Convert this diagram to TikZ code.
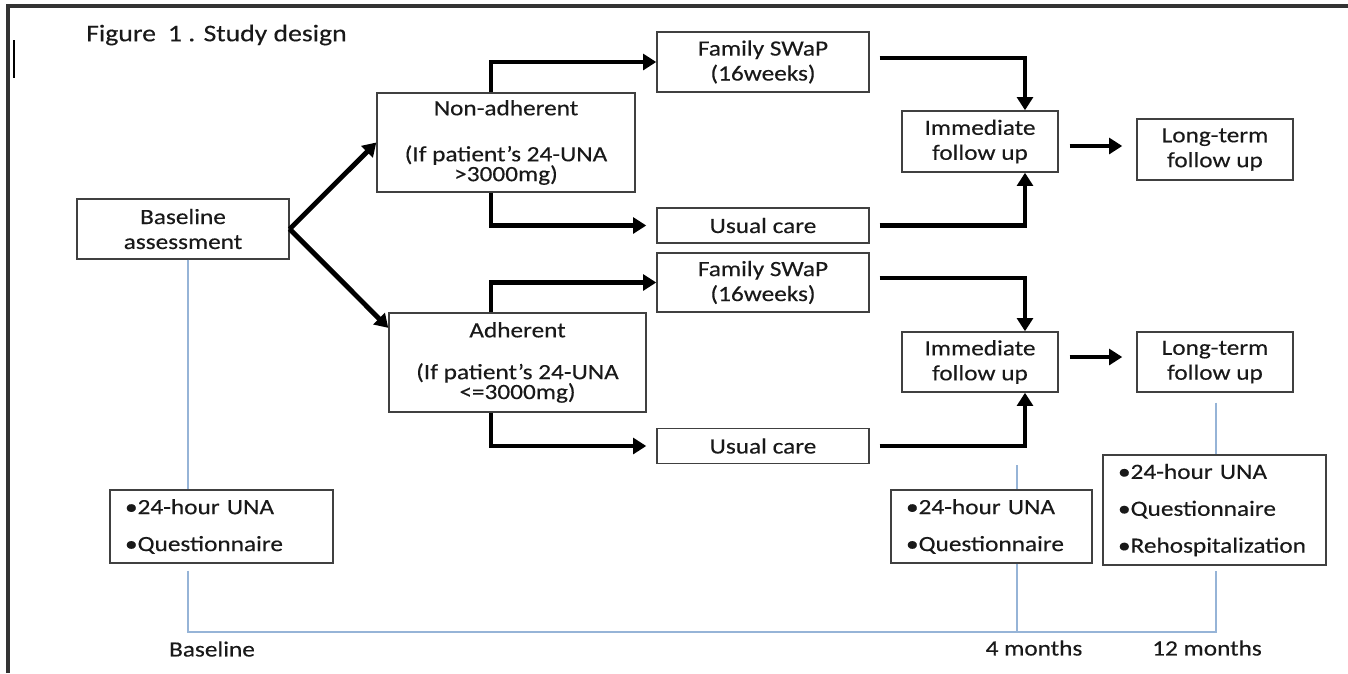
\documentclass[tikz,border=0pt]{standalone}
\usepackage{fontspec}
\setmainfont{Carlito}[FakeStretch=1.16,FakeBold=0.3]
\usetikzlibrary{arrows.meta}
\definecolor{tblue}{RGB}{150,180,215}

\begin{document}
\begin{tikzpicture}[x=0.02cm,y=-0.02cm,
    every node/.style={font=\fontsize{12.4}{14.2}\selectfont,text=black!90},
    box/.style={draw=black!75,line width=0.85pt,inner sep=0pt,align=center},
    listbox/.style={draw=black!75,line width=0.85pt,inner xsep=0.3cm,inner ysep=0pt,
      align=left,font=\fontsize{12.4}{21}\selectfont},
    flow/.style={line width=2.8pt,-{Triangle[length=7.5pt,width=9pt]}},
    tline/.style={draw=tblue,line width=0.85pt}]
\useasboundingbox (0,0) rectangle (1348,673);

% frame
\draw[line width=2pt,draw=black!80] (8,673) -- (8,6) -- (1348,6);
\draw[line width=1.1pt] (14,40) -- (14,78);
\node[anchor=west,font=\fontsize{13.6}{15}\selectfont] (title) at (80,35) {Figure\enspace 1 . Study design};

% stages
\node[box,minimum width=4.24cm,minimum height=1.2cm] (base) at (183,229) {Baseline\\assessment};
\node[box,minimum width=5.16cm,minimum height=1.98cm] (nonadh) at (506,142.5)
  {Non-adherent\\[12pt](If patient’s 24-UNA\\[-2.9pt]>3000mg)};
\node[box,minimum width=5.14cm,minimum height=1.98cm] (adh) at (517.5,362.5)
  {Adherent\\[9.6pt](If patient’s 24-UNA\\[-2.9pt]<=3000mg)};

\node[box,minimum width=4.24cm,minimum height=1.2cm] (swap1) at (763,62) {Family SWaP\\(16weeks)};
\node[box,minimum width=4.24cm,minimum height=0.7cm] (usual1) at (763,225.5) {Usual care};
\node[box,minimum width=4.24cm,minimum height=1.18cm] (swap2) at (763,282.5) {Family SWaP\\(16weeks)};
\node[box,minimum width=4.24cm,minimum height=0.7cm] (usual2) at (763,446) {Usual care};

\node[box,minimum width=3.12cm,minimum height=1.22cm] (imm1) at (980,141.5) {Immediate\\follow up};
\node[box,minimum width=3.12cm,minimum height=1.22cm] (lt1) at (1215,149.5) {Long-term\\follow up};
\node[box,minimum width=3.12cm,minimum height=1.2cm] (imm2) at (980,362) {Immediate\\follow up};
\node[box,minimum width=3.12cm,minimum height=1.2cm] (lt2) at (1215,362) {Long-term\\follow up};

% measures
\node[listbox,text width=3.86cm,minimum height=1.46cm] (bl0) at (221.5,526.5) {•24-hour UNA\\•Questionnaire};
\node[listbox,text width=3.42cm,minimum height=1.46cm] (bl4) at (991.5,526.5) {•24-hour UNA\\•Questionnaire};
\node[listbox,text width=3.86cm,minimum height=2.2cm] (bl12) at (1214.5,510) {•24-hour UNA\\•Questionnaire\\•Rehospitalization};

% arrows
\draw[flow] (base.east) -- (nonadh.west);
\draw[flow] (base.east) -- (adh.165);
\draw[flow] ([xshift=-0.3cm]nonadh.north) |- (swap1.west);
\draw[flow,shorten >=0.2cm] ([xshift=-0.3cm]nonadh.south) |- (usual1.west);
\draw[flow] ([xshift=-0.53cm]adh.north) |- (swap2.west);
\draw[flow,shorten >=0.2cm] ([xshift=-0.53cm]adh.south) |- (usual2.west);

\draw[flow,shorten <=0.2cm] ([yshift=0.08cm]swap1.east) -| ([xshift=0.9cm]imm1.north);
\draw[flow,shorten <=0.2cm] (usual1.east) -| ([xshift=0.9cm]imm1.south);
\draw[flow,shorten <=0.2cm] ([yshift=0.09cm]swap2.east) -| ([xshift=0.9cm]imm2.north);
\draw[flow,shorten <=0.2cm] (usual2.east) -| ([xshift=0.9cm]imm2.south);

\draw[flow,shorten <=0.22cm,shorten >=0.28cm] ([yshift=-0.09cm]imm1.east) -- ([yshift=-0.09cm]imm1.east -| lt1.west);
\draw[flow,shorten <=0.22cm,shorten >=0.28cm] ([yshift=0.1cm]imm2.east) -- ([yshift=0.1cm]imm2.east -| lt2.west);

% time line
\coordinate (t0) at (188,632);
\coordinate (t4) at (1017,632);
\coordinate (t12) at (1216,632);
\coordinate (m4) at (1017,465);
\draw[tline] (base.south -| t0) -- (bl0.north -| t0);
\draw[tline,shorten <=0.14cm,shorten >=0.1cm] (bl0.south -| t0) -- (t0) -- (t12) -- (bl12.south -| t12);
\draw[tline] (m4) -- (bl4.north -| t4);
\draw[tline] (bl4.south -| t4) -- (t4);
\draw[tline,shorten <=0.2cm] (lt2.south -| t12) -- (bl12.north -| t12);

\node (lbl0) at (212,649) {Baseline};
\node (lbl4) at (1034,648) {4 months};
\node (lbl12) at (1207,648) {12 months};
\end{tikzpicture}
\end{document}
